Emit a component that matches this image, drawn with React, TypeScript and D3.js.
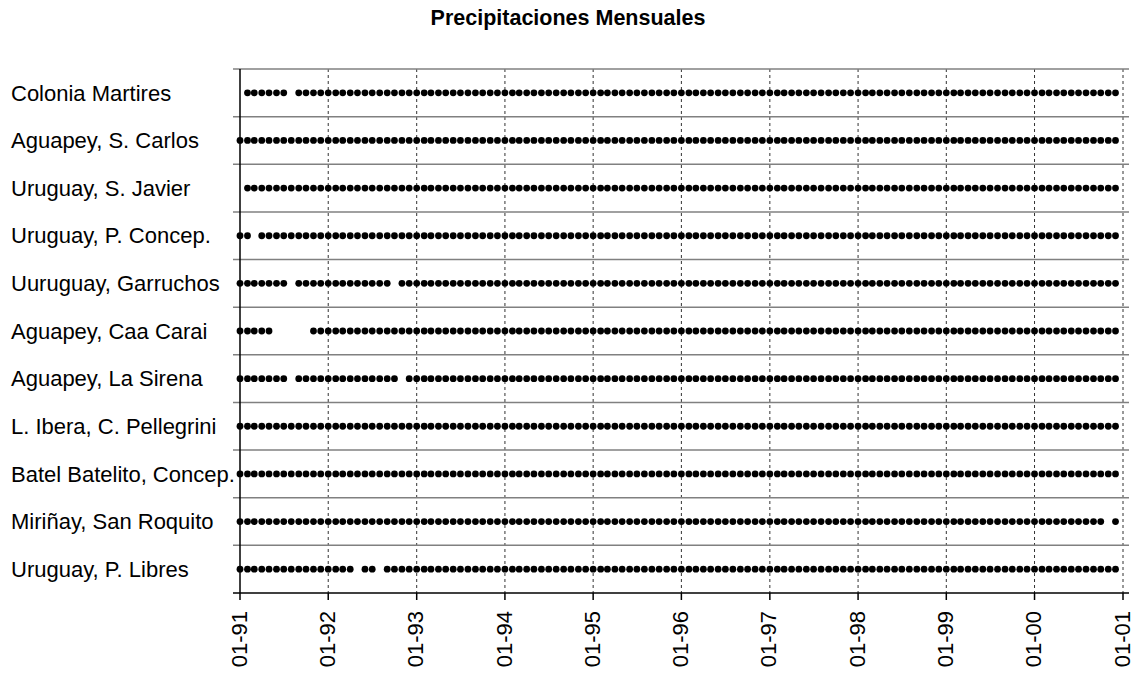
import React from "react";
import * as d3 from "d3";

const title = "Precipitaciones Mensuales";

const stations = [
  "Colonia Martires",
  "Aguapey, S. Carlos",
  "Uruguay, S. Javier",
  "Uruguay, P. Concep.",
  "Uuruguay, Garruchos",
  "Aguapey, Caa Carai",
  "Aguapey, La Sirena",
  "L. Ibera, C. Pellegrini",
  "Batel Batelito, Concep.",
  "Miriñay, San Roquito",
  "Uruguay, P. Libres",
];

const firstMonth = [
  "1991-02", "1991-01", "1991-02", "1991-01", "1991-01", "1991-01",
  "1991-01", "1991-01", "1991-01", "1991-01", "1991-01",
];

const lastMonth = [
  "2000-12", "2000-12", "2000-12", "2000-12", "2000-12", "2000-12",
  "2000-12", "2000-12", "2000-12", "2000-12", "2000-12",
];

const missingMonths: string[][] = [
  ["1991-08"],
  [],
  [],
  ["1991-03"],
  ["1991-08", "1992-10"],
  ["1991-06", "1991-07", "1991-08", "1991-09", "1991-10"],
  ["1991-08", "1992-11"],
  [],
  [],
  ["2000-11"],
  ["1992-05", "1992-08"],
];

const tickLabels = ["01-91", "01-92", "01-93", "01-94", "01-95", "01-96", "01-97", "01-98", "01-99", "01-00", "01-01"];
const tickDates = ["1991-01", "1992-01", "1993-01", "1994-01", "1995-01", "1996-01", "1997-01", "1998-01", "1999-01", "2000-01", "2001-01"];

const parseMonth = d3.timeParse("%Y-%m");
const fmtMonth = d3.timeFormat("%Y-%m");

const W = 1136;
const H = 673;
const left = 240;
const right = 1123;
const top = 69;
const bottom = 593;

export default function App() {
  const x = d3.scaleTime()
    .domain([parseMonth("1991-01")!, parseMonth("2001-01")!])
    .range([left, right]);
  const y = d3.scaleBand<string>().domain(stations).range([top, bottom]).padding(0);
  const bw = y.bandwidth();

  const rows = stations.map((s, i) => {
    const months = d3.timeMonth.range(parseMonth(firstMonth[i])!, d3.timeMonth.offset(parseMonth(lastMonth[i])!, 1));
    const miss = new Set(missingMonths[i]);
    return { s, pts: months.filter((m) => !miss.has(fmtMonth(m))) };
  });

  const font = "'Liberation Sans', Arial, sans-serif";

  return (
    <div style={{ position: "absolute", left: 0, top: 0 }}>
      <svg width={W} height={H} style={{ display: "block", background: "#fff" }}>
        <rect x={0} y={0} width={W} height={H} fill="#fff" />
        <text x={568} y={25} textAnchor="middle" fontFamily={font} fontWeight="bold" fontSize={21.5}>
          {title}
        </text>
        {/* vertical gridlines */}
        {tickDates.slice(1).map((t) => (
          <line key={t} x1={x(parseMonth(t)!)} x2={x(parseMonth(t)!)} y1={top} y2={bottom}
            stroke="#333" strokeWidth={1} strokeDasharray="3,3" />
        ))}
        {/* horizontal row separators */}
        {d3.range(stations.length).map((i) => (
          <line key={i} x1={233} x2={1129} y1={y(stations[i])!} y2={y(stations[i])!}
            stroke="#808080" strokeWidth={1.5} />
        ))}
        {/* labels */}
        {stations.map((s) => (
          <text key={s} x={11} y={y(s)! + bw / 2} dy="0.35em" fontFamily={font} fontSize={22}>
            {s}
          </text>
        ))}
        {/* axes */}
        <line x1={left} x2={left} y1={top} y2={bottom} stroke="#000" strokeWidth={1.5} />
        <line x1={233} x2={1129} y1={bottom} y2={bottom} stroke="#000" strokeWidth={1.5} />
        {tickDates.map((t) => (
          <line key={t} x1={x(parseMonth(t)!)} x2={x(parseMonth(t)!)} y1={bottom} y2={bottom + 7}
            stroke="#000" strokeWidth={1.5} />
        ))}
        {tickDates.map((t, i) => (
          <text key={t} transform={`translate(${x(parseMonth(t)!)},${bottom + 18}) rotate(-90)`}
            textAnchor="end" dy="0.3em" fontFamily={font} fontSize={22}>
            {tickLabels[i]}
          </text>
        ))}
        {/* dots */}
        {rows.map((r) => (
          <g key={r.s}>
            {r.pts.map((m, j) => (
              <circle key={j} cx={x(m)} cy={y(r.s)! + bw / 2} r={3.4} fill="#000" />
            ))}
          </g>
        ))}
      </svg>
    </div>
  );
}
